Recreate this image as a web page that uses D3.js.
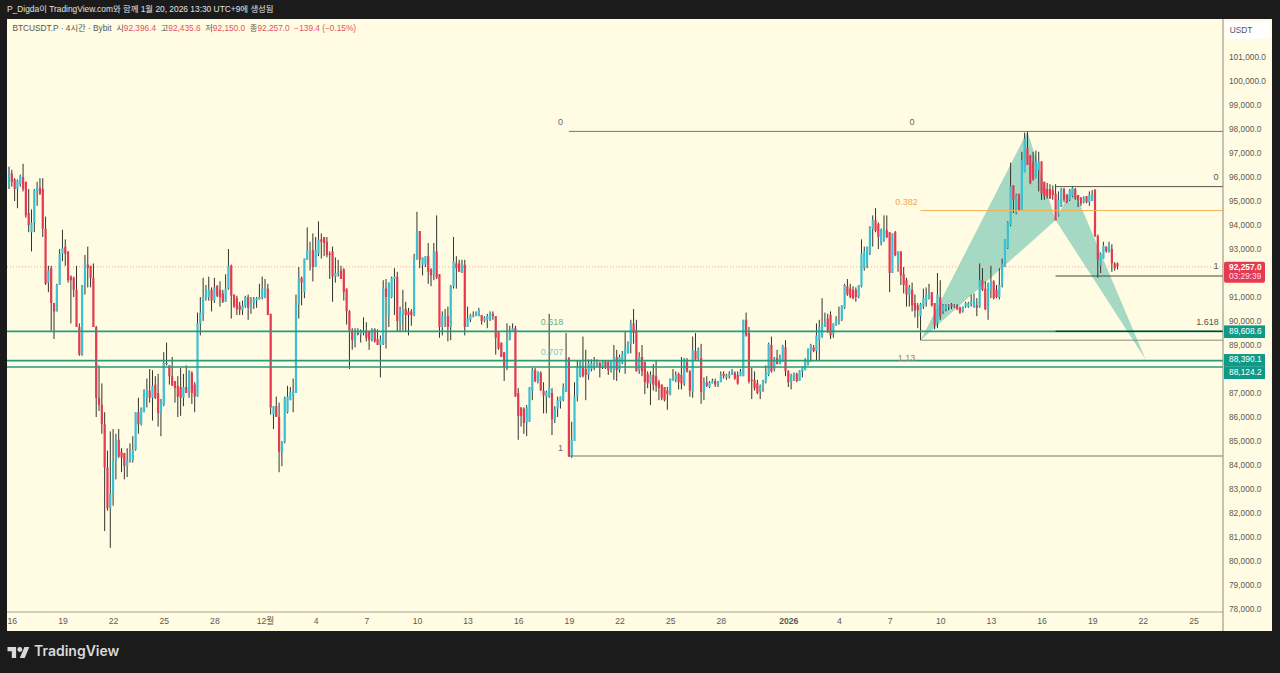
<!DOCTYPE html>
<html>
<head>
<meta charset="utf-8">
<script src="https://cdnjs.cloudflare.com/ajax/libs/d3/7.8.5/d3.min.js"></script>
<style>
html, body { margin: 0; padding: 0; background: #1b1b1b; overflow: hidden; }
svg { display: block; }
text { font-family: "Liberation Sans", "Noto Sans CJK KR", sans-serif; }
</style>
</head>
<body>
<svg id="chart" width="1280" height="673"></svg>
<script>
// 4h candles, thousands of USDT
const opens = [
95.6,96.15,95.9,95.5,95.7,96.0,95.8,94.5,93.7,94.1,
95.4,95.55,95.5,93.85,91.6,92.2,90.75,90.4,91.5,92.8,
93.1,92.9,91.85,91.8,91.3,89.75,88.6,91.5,92.35,92.3,
91.8,89.75,86.8,86.5,85.7,83.9,82.2,82.8,84.15,85.05,
84.55,84.5,83.95,84.2,84.2,84.65,86.2,85.7,86.2,86.8,
87.1,86.8,87.35,87.0,86.15,86.5,88.25,88.15,87.7,87.5,
87.3,87.25,86.8,87.25,87.05,87.85,87.35,86.85,89.9,90.3,
91.0,91.0,91.3,90.85,91.45,91.3,91.15,90.8,91.35,92.3,
91.1,90.95,90.65,90.45,90.6,91.0,90.55,90.75,90.85,90.9,
90.95,91.0,91.35,90.3,86.1,86.45,86.0,84.55,84.95,86.2,
86.7,86.9,87.0,90.7,91.8,91.2,92.55,92.95,92.95,92.25,
92.8,93.4,93.5,93.3,92.8,92.9,91.85,92.0,92.1,92.15,
91.35,90.4,89.6,89.2,89.5,89.45,89.5,89.6,89.55,89.2,
89.65,89.25,89.0,89.05,91.35,90.2,91.0,91.75,91.85,89.9,
90.25,90.5,90.4,90.4,90.25,92.6,93.75,92.35,92.35,92.7,
92.15,91.95,92.9,91.95,89.75,90.1,90.2,89.75,91.45,92.4,
92.4,92.05,92.35,89.75,90.05,90.2,90.25,90.2,90.25,90.0,
90.05,90.05,90.3,90.2,89.55,89.1,88.7,88.1,89.2,89.55,
89.7,87.0,86.4,86.35,85.75,85.8,87.1,87.95,87.5,87.85,
87.1,86.85,86.85,87.0,85.9,86.35,86.65,86.7,87.05,88.45,
84.35,85.0,86.85,87.7,88.1,88.0,87.75,88.0,88.1,88.2,
88.25,88.05,88.3,88.3,87.95,87.96,88.5,87.95,88.25,88.5,
88.65,89.05,89.9,89.6,87.95,88.5,88.3,87.8,87.4,87.75,
87.7,87.45,87.35,87.25,87.1,86.95,87.5,87.55,87.8,87.75,
87.4,88.3,87.9,87.05,88.75,88.45,88.45,87.05,87.45,87.25,
87.4,87.5,87.35,87.45,87.8,87.65,87.7,87.8,87.85,87.75,
87.7,87.7,90.05,89.5,87.55,87.55,87.4,87.05,87.3,87.45,
87.75,89.0,88.0,88.45,88.2,88.3,88.9,87.9,87.45,87.7,
87.8,87.5,87.9,87.95,88.2,88.75,88.9,88.75,89.2,89.35,
89.75,90.1,90.25,89.45,89.85,90.0,90.05,90.55,91.45,91.35,
91.3,91.3,91.0,91.45,92.2,92.4,92.85,93.85,94.2,94.05,
93.25,93.4,93.8,93.7,92.0,93.7,92.4,92.9,91.95,91.7,
91.1,91.3,90.75,90.65,90.2,90.6,90.8,90.95,91.2,90.75,
89.9,91.0,90.4,90.5,90.6,90.7,90.6,90.65,90.55,90.4,
90.6,90.6,90.7,90.6,90.65,90.6,91.7,91.35,90.5,91.3,
91.65,91.3,91.0,91.5,92.3,93.05,94.0,95.65,94.5,95.3,
94.6,96.2,97.2,96.9,96.6,95.95,96.3,96.65,95.8,95.5,
95.5,95.45,95.3,94.4,94.8,95.5,95.25,95.05,95.2,95.5,
95.25,95.15,94.95,95.2,94.95,95.0,95.45,93.55,92.3,92.6,
93.1,92.9,93.0,92.4,92.396
];
const highs = [
96.43,96.3,95.95,95.9,96.1,96.55,95.8,95.5,94.65,95.5,
95.8,95.95,95.95,94.35,92.3,92.3,90.75,91.55,93.0,93.8,
93.4,92.9,91.9,91.85,92.3,89.9,91.5,92.75,93.1,92.3,
92.4,89.8,88.15,87.4,86.2,84.6,85.4,85.5,85.3,85.5,
84.7,84.5,84.7,84.9,85.2,86.2,86.8,86.4,87.15,87.6,
88.0,87.95,87.7,87.8,86.75,88.7,89.1,88.15,88.5,87.5,
87.7,88.05,87.8,88.15,87.95,87.9,87.45,90.35,91.0,91.8,
91.5,91.85,91.4,91.8,91.5,91.65,91.3,91.95,93.0,92.35,
91.1,91.05,90.8,90.85,91.05,91.1,91.0,91.0,91.0,91.55,
91.85,91.75,91.55,90.3,86.45,86.85,86.6,85.0,86.85,87.3,
87.25,87.6,91.1,92.25,91.85,92.6,93.9,93.3,93.65,93.5,
94.15,93.65,93.5,93.5,92.9,93.1,92.65,92.55,92.3,92.2,
91.35,90.45,89.7,89.7,89.7,89.65,90.15,89.95,89.6,89.7,
89.7,89.65,89.4,91.7,91.75,91.6,91.85,92.2,92.05,90.6,
91.3,90.8,90.55,90.5,92.8,94.55,93.75,92.65,92.7,93.25,
92.2,93.25,94.4,91.95,90.4,90.5,90.6,91.5,93.5,92.7,
92.55,92.55,92.55,90.6,90.3,90.4,90.4,90.55,90.25,90.2,
90.3,90.4,90.4,90.2,89.55,89.1,88.7,89.9,89.8,89.9,
89.8,87.2,86.4,86.4,86.5,87.25,88.05,88.05,87.9,87.9,
87.45,87.1,90.3,87.2,86.45,86.85,86.85,87.4,89.5,88.5,
85.8,87.45,88.35,88.35,89.35,88.8,88.4,88.4,88.5,88.4,
88.3,88.35,88.35,88.35,88.35,89.0,88.8,88.6,88.75,89.55,
89.15,90.05,90.5,90.05,88.7,89.0,88.3,87.9,87.9,88.2,
88.35,87.55,87.35,87.25,87.25,87.6,88.0,87.9,87.85,88.5,
88.45,88.45,87.95,89.35,89.5,88.9,89.05,87.65,87.7,87.5,
87.6,87.6,87.5,87.9,87.9,87.8,87.9,88.0,87.9,87.9,
88.0,90.05,90.35,89.75,88.05,87.9,87.55,87.35,87.55,88.15,
89.1,89.35,88.5,88.8,88.6,89.0,89.2,87.95,87.8,87.85,
87.85,87.95,88.1,88.45,88.85,89.05,89.0,89.9,90.05,90.95,
90.35,90.3,90.4,89.9,90.2,90.6,90.65,91.55,91.75,91.55,
91.45,91.4,91.5,93.4,93.1,93.1,93.95,94.4,94.7,94.1,
93.85,94.4,94.4,93.7,93.65,93.75,92.9,92.9,92.25,91.8,
91.5,91.6,91.1,90.75,90.75,91.35,91.4,91.55,91.2,90.75,
92.0,91.7,90.7,90.7,90.7,90.75,90.7,90.7,90.6,90.6,
90.8,90.8,91.1,91.15,90.95,92.4,92.2,91.65,91.6,92.3,
91.7,91.5,92.2,92.6,93.4,94.15,96.6,95.65,95.3,95.3,
97.05,97.85,97.9,96.9,97.05,97.1,97.05,96.65,95.8,95.75,
95.7,95.65,95.7,95.4,95.55,95.55,95.3,95.5,95.6,95.55,
95.25,95.15,95.2,95.2,95.4,95.45,95.5,93.6,92.85,93.3,
93.1,93.3,93.2,92.45,92.436
];
const lows = [
95.5,95.6,95.0,94.7,95.6,95.4,94.3,93.7,92.9,93.7,
94.8,95.25,93.5,91.5,91.2,89.6,89.25,90.4,91.5,92.5,
92.3,91.6,89.9,91.0,89.75,88.55,88.55,91.1,91.4,91.4,
89.75,86.0,86.25,85.3,81.25,82.1,80.55,82.3,83.4,84.3,
83.7,83.4,83.5,84.1,84.1,84.6,85.3,85.65,86.2,86.4,
86.6,85.85,86.75,85.6,85.2,86.45,88.15,87.35,87.3,86.6,
86.0,86.05,86.45,87.0,86.8,86.55,86.2,86.85,89.4,90.0,
90.85,90.85,90.4,90.75,91.0,90.6,90.75,90.8,91.3,90.1,
90.55,90.25,90.25,90.25,90.55,90.05,90.3,90.5,90.55,90.9,
90.9,90.95,90.25,86.1,85.5,86.0,83.7,83.95,84.9,86.15,
86.7,86.2,87.0,90.1,90.65,90.95,92.55,92.1,91.65,92.25,
92.7,92.6,92.7,92.65,91.75,90.8,91.6,91.85,91.75,90.85,
89.85,88.0,88.8,88.9,89.4,89.1,89.4,89.15,88.8,89.15,
89.1,89.0,87.65,89.0,88.85,89.75,90.95,90.25,89.55,89.55,
89.6,89.55,89.4,89.8,90.2,92.55,92.2,91.9,92.25,91.55,
91.45,91.7,91.75,89.3,89.4,89.75,89.15,89.2,91.35,91.35,
92.05,92.0,89.4,89.75,89.95,90.15,90.2,90.2,89.85,89.95,
89.7,90.0,90.05,88.6,88.8,88.5,87.5,87.95,89.2,89.55,
86.85,85.05,85.6,85.3,85.2,85.8,86.7,87.45,87.4,87.1,
86.15,86.15,86.8,85.25,85.75,86.0,86.35,86.65,87.05,84.35,
84.3,85.0,86.65,87.65,87.65,86.7,87.55,87.9,87.95,88.1,
87.65,88.0,88.0,87.75,87.85,87.55,87.5,87.85,88.2,87.8,
88.65,88.65,89.05,87.9,87.8,87.7,86.95,87.2,86.5,87.1,
87.05,86.7,86.7,86.65,86.3,86.9,87.5,87.45,87.15,87.15,
87.3,87.85,86.85,86.8,88.35,88.35,86.55,86.7,87.25,87.2,
87.4,87.25,87.25,87.45,87.6,87.55,87.6,87.75,87.55,87.35,
87.7,87.7,89.35,87.4,86.75,87.1,86.95,86.75,87.05,87.4,
87.7,87.85,87.9,88.2,88.2,88.3,87.7,87.25,87.15,87.5,
87.45,87.5,87.65,87.95,88.15,88.3,88.7,88.35,88.35,89.3,
89.75,89.5,89.25,89.3,89.8,89.85,90.0,90.5,91.05,90.95,
90.9,90.8,90.95,91.4,92.1,92.2,92.75,93.1,93.7,93.0,
93.15,93.3,93.45,91.2,92.0,92.7,92.05,91.5,91.15,90.6,
90.6,90.4,90.15,89.7,89.2,90.5,90.6,90.9,90.6,89.65,
89.7,90.05,90.3,90.4,90.45,90.5,90.55,90.45,90.3,90.35,
90.55,90.55,90.6,90.55,90.2,90.55,91.25,90.45,90.05,90.95,
90.9,90.95,90.9,91.4,92.25,93.0,93.95,94.5,94.45,94.6,
94.6,96.2,96.5,95.7,95.85,95.95,95.4,95.05,95.05,95.1,
95.1,95.05,94.2,94.35,94.75,94.95,94.9,95.0,95.15,95.05,
94.75,94.8,94.9,94.9,94.8,95.0,93.5,91.8,92.0,92.6,
92.85,92.85,92.05,92.1,92.15
];
const closes = [
96.15,95.8,95.5,95.85,96.05,95.5,94.4,94.0,94.1,95.45,
95.55,95.3,93.85,91.55,92.1,90.75,90.4,91.5,92.8,93.05,
92.8,91.7,91.7,91.3,89.75,88.6,91.5,92.4,92.2,91.8,
89.75,86.8,86.5,85.7,83.9,82.2,82.8,84.15,85.05,84.35,
84.3,83.95,84.2,84.5,84.65,86.2,85.7,86.35,87.1,87.15,
86.8,87.3,86.8,86.15,86.65,88.25,88.2,87.7,87.3,87.2,
86.85,86.8,87.25,87.0,87.9,87.0,86.85,89.9,90.35,91.0,
91.3,91.3,90.85,91.4,91.05,91.0,90.8,91.35,92.3,91.05,
90.6,90.5,90.45,90.65,91.0,90.55,90.75,90.9,90.95,91.0,
91.35,91.35,90.25,86.4,86.45,86.0,84.55,84.95,86.8,86.85,
87.05,87.05,90.75,91.8,91.6,92.6,92.95,93.0,92.25,92.95,
93.4,93.3,93.25,92.75,92.75,91.85,92.0,92.05,91.75,91.2,
90.4,89.6,89.2,89.5,89.45,89.6,89.6,89.3,89.2,89.65,
89.15,89.0,89.2,91.35,91.0,91.6,91.8,91.85,90.0,90.4,
90.5,90.25,90.25,90.25,92.6,93.7,92.55,92.65,92.7,92.05,
91.9,92.9,91.8,89.75,90.2,90.2,89.75,91.45,92.5,92.2,
92.05,92.35,89.75,90.1,90.25,90.25,90.3,90.45,90.0,90.15,
90.2,90.35,90.2,89.3,88.85,88.5,88.1,89.2,89.6,89.7,
86.85,86.05,86.05,85.75,86.4,87.25,87.95,87.5,87.9,87.1,
86.9,87.05,87.2,85.9,86.35,86.7,86.85,87.25,88.35,84.35,
85.05,86.85,88.05,88.3,87.7,87.75,88.25,88.25,88.25,88.25,
88.05,88.3,88.1,87.95,88.3,88.5,87.95,88.5,88.65,88.85,
89.05,89.9,89.5,87.9,88.5,87.9,87.45,87.4,87.75,87.35,
87.3,87.2,86.8,86.7,86.95,87.6,87.6,87.75,87.45,87.4,
88.45,87.9,87.1,88.8,88.4,88.85,87.05,87.45,87.3,87.45,
87.5,87.35,87.45,87.75,87.7,87.75,87.8,87.95,87.6,87.4,
87.9,90.05,89.4,87.5,87.5,87.2,87.0,87.3,87.5,87.85,
89.05,87.9,88.45,88.2,88.5,88.95,87.9,87.45,87.75,87.8,
87.5,87.95,88.05,88.4,88.85,89.0,88.75,89.4,89.75,89.85,
89.95,89.6,89.4,89.9,90.1,90.05,90.65,91.5,91.1,91.0,
90.95,91.0,91.5,92.8,92.9,93.1,93.9,94.2,93.75,93.5,
93.8,93.8,93.5,92.0,93.65,92.75,92.9,91.9,91.5,91.1,
91.4,90.65,90.45,90.45,90.7,90.95,91.1,91.15,90.65,89.85,
91.1,90.2,90.65,90.65,90.65,90.6,90.65,90.5,90.35,90.6,
90.75,90.75,90.8,90.9,90.55,91.7,91.3,90.5,91.55,91.65,
90.95,91.0,91.5,92.4,93.4,94.1,95.6,95.05,95.25,94.6,
96.7,97.6,96.5,95.75,95.9,96.65,96.65,95.3,95.2,95.2,
95.1,95.25,94.2,95.05,95.5,95.05,94.95,95.45,95.55,95.1,
95.05,94.9,95.15,94.95,95.25,95.3,93.55,92.55,92.8,93.15,
92.9,93.15,92.4,92.2,92.257
];

const timeTickBars = [1,19,37,55,73,91,109,127,145,163,181,199,217,235,253,277,295,313,331,349,367,385,403,421];
const timeTickLabels = ['16','19','22','25','28','12월','4','7','10','13','16','19','22','25','28','2026','4','7','10','13','16','19','22','25'];
const priceTicks = [101,100,99,98,97,96,95,94,93,91,90,89,87,86,85,84,83,82,81,80,79,78];

// harmonic pattern pivots: bar index and price
const patternBars = [324,362,372,378,404];
const patternPrices = [89.2,97.9,94.2,95.6,88.4];

const horizontalPrices = [89.6086,88.3901,88.1242];
const lastPrice = 92.257;

// fib drawings: start bar, price, colour
const fibBars = [199,199,324,324,372,372,372];
const fibPrices = [97.9,84.375,94.6,89.2,95.6,91.875,89.57];
const fibColors = ['#77766a','#77766a','#f4b055','#8a8a80','#55554c','#44443c','#22221c'];

const fibLabelText = ['0','0','1','0.618','0.707','0.382','1.13','0','1','1.618'];
const fibLabelBars = [196,321,196,193,193,319,319,429,429,426];
const fibLabelPrices = [98.27,98.27,84.67,89.95,88.7,94.93,88.44,95.96,92.25,89.95];
const fibLabelColors = ['#666','#666','#666','#6fab88','#72cccc','#efa850','#8b8b85','#555','#555','#555'];

const legendParts = [
    ['BTCUSDT.P · 4시간 · Bybit  시', '#555'], ['92,396.4', '#e8505f'],
    ['  고', '#555'], ['92,435.6', '#e8505f'],
    ['  저', '#555'], ['92,150.0', '#e8505f'],
    ['  종', '#555'], ['92,257.0', '#e8505f'],
    ['  −139.4 (−0.15%)', '#e8505f']
];

const chartLeft = 7, chartRight = 1223, axisRight = 1272, chartTop = 19, chartBottom = 612, stripBottom = 631;
const BG = '#fffce3', UP = '#3cc0d2', DOWN = '#e63a50', WICK = '#33332e', GREEN = '#259a7e', TAG = '#0f9a87';

const svg = d3.select('#chart');
const x = d3.scaleLinear().domain([0, 394]).range([9, 1117.5]);
const y = d3.scaleLinear().domain([78, 101]).range([609, 57]);

svg.append('rect').attr('width', 1280).attr('height', 673).attr('fill', '#1b1b1b');
svg.append('rect').attr('x', chartLeft).attr('y', chartTop)
    .attr('width', axisRight - chartLeft).attr('height', stripBottom - chartTop).attr('fill', BG);

svg.append('clipPath').attr('id', 'plot').append('rect')
    .attr('x', chartLeft).attr('y', chartTop).attr('width', chartRight - chartLeft).attr('height', chartBottom - chartTop);
let plot = svg.append('g').attr('clip-path', 'url(#plot)');

// pattern triangles
const pts = patternBars.map((b, i) => [x(b), y(patternPrices[i])]);
plot.append('polygon')
    .attr('points', [pts[0], pts[1], pts[2]].join(' '))
    .attr('fill', '#a6d9c3');
plot.append('polygon')
    .attr('points', [pts[2], pts[3], pts[4]].join(' '))
    .attr('fill', '#a6d9c3');

plot.append('line')
    .attr('x1', chartLeft).attr('x2', chartRight)
    .attr('y1', y(lastPrice)).attr('y2', y(lastPrice))
    .attr('stroke', '#f3a9a0').attr('stroke-width', 1).attr('stroke-dasharray', '1 2');

// candles
let candle = plot.selectAll('g.candle')
    .data(opens)
    .enter()
    .append('g')
    .attr('class', 'candle');

candle.append('line')
    .attr('x1', (d, i) => x(i)).attr('x2', (d, i) => x(i))
    .attr('y1', (d, i) => y(Math.max(highs[i], d, closes[i])))
    .attr('y2', (d, i) => y(Math.min(lows[i], d, closes[i])))
    .attr('stroke', WICK).attr('stroke-width', 1);

candle.append('rect')
    .attr('x', (d, i) => x(i) - 1.1)
    .attr('width', 2.2)
    .attr('y', (d, i) => y(Math.max(d, closes[i])))
    .attr('height', (d, i) => Math.max(1, Math.abs(y(d) - y(closes[i]))))
    .attr('fill', (d, i) => closes[i] >= d ? UP : DOWN);

// fib lines
fibBars.forEach((b, i) => {
    plot.append('line')
        .attr('x1', x(b)).attr('x2', chartRight)
        .attr('y1', y(fibPrices[i])).attr('y2', y(fibPrices[i]))
        .attr('stroke', fibColors[i]).attr('stroke-width', 1);
});

// axis labels sit a pixel above their true level, so the lines get +1
horizontalPrices.forEach((p) => {
    plot.append('line')
        .attr('x1', chartLeft).attr('x2', chartRight)
        .attr('y1', y(p) + 1).attr('y2', y(p) + 1)
        .attr('stroke', GREEN).attr('stroke-width', 1.6);
});
// black 1.618 leg sits on top of the green line
plot.append('line')
    .attr('x1', x(fibBars[6])).attr('x2', chartRight)
    .attr('y1', y(fibPrices[6])).attr('y2', y(fibPrices[6]))
    .attr('stroke', fibColors[6]).attr('stroke-width', 1);

fibLabelText.forEach((t, i) => {
    plot.append('text')
        .attr('x', x(fibLabelBars[i])).attr('y', y(fibLabelPrices[i]))
        .attr('text-anchor', 'middle').attr('dominant-baseline', 'middle')
        .attr('font-size', 9).attr('fill', fibLabelColors[i])
        .text(t);
});

// axes
let yAxis = d3.axisRight(y).tickValues(priceTicks).tickSize(0).tickPadding(6)
    .tickFormat((d) => d3.format(',.1f')(d * 1000));
let yg = svg.append('g').attr('transform', 'translate(' + chartRight + ',0)').call(yAxis);
yg.select('.domain').remove();
yg.selectAll('text').attr('font-size', 8.3).attr('fill', '#5a5a55')
    .style('font-family', '"Liberation Sans", sans-serif');

let xAxis = d3.axisBottom(x).tickValues(timeTickBars).tickSize(0).tickPadding(5.5)
    .tickFormat((d, i) => timeTickLabels[i]);
let xg = svg.append('g').attr('transform', 'translate(0,' + chartBottom + ')').call(xAxis);
xg.select('.domain').remove();
xg.selectAll('text').attr('font-size', 8.6).attr('fill', '#5a5a55')
    .attr('font-weight', (d, i) => timeTickLabels[i] === '2026' ? 'bold' : 'normal')
    .style('font-family', '"Liberation Sans", "Noto Sans CJK KR", sans-serif');

svg.append('line').attr('x1', chartLeft).attr('x2', chartRight)
    .attr('y1', chartBottom).attr('y2', chartBottom)
    .attr('stroke', '#a6a48c').attr('stroke-width', 1.2);
svg.append('line').attr('x1', chartRight).attr('x2', chartRight)
    .attr('y1', chartTop).attr('y2', stripBottom)
    .attr('stroke', '#8a8a78').attr('stroke-width', 1);

// USDT box
svg.append('rect').attr('x', 1225).attr('y', 22).attr('width', 45).attr('height', 17).attr('rx', 2).attr('fill', '#ffffff');
svg.append('text').attr('x', 1241).attr('y', 31).attr('text-anchor', 'middle').attr('dominant-baseline', 'middle')
    .attr('font-size', 8.3).attr('fill', '#555').text('USDT');

// price tags, the two close ones are pushed apart like the platform does
const tagValues = [89.6086, 88.3901, 88.1242];
const tagShifts = [1.2, 0.6, 6.6];
svg.append('rect').attr('x', chartRight + 1).attr('y', y(lastPrice) - 5)
    .attr('width', 41).attr('height', 21).attr('rx', 2).attr('fill', DOWN);
svg.append('text').attr('x', 1229).attr('y', y(lastPrice) + 0.5).attr('dominant-baseline', 'middle')
    .attr('font-size', 8.4).attr('font-weight', 'bold').attr('fill', '#fff').text(d3.format(',.1f')(lastPrice * 1000));
svg.append('text').attr('x', 1229).attr('y', y(lastPrice) + 9.7).attr('dominant-baseline', 'middle')
    .attr('font-size', 8.3).attr('fill', '#fde').text('03:29:39');

svg.selectAll('rect.tag').data(tagValues).enter().append('rect')
    .attr('class', 'tag')
    .attr('x', chartRight + 1).attr('y', (d, i) => y(d) + tagShifts[i] - 6.2)
    .attr('width', 41).attr('height', 12.6).attr('fill', TAG);
svg.selectAll('text.tag').data(tagValues).enter().append('text')
    .attr('class', 'tag')
    .attr('x', 1229).attr('y', (d, i) => y(d) + tagShifts[i]).attr('dominant-baseline', 'middle')
    .attr('font-size', 8.4).attr('fill', '#fff').text((d) => d3.format(',.1f')(d * 1000));

// headers
svg.append('text').attr('x', 7).attr('y', 10).attr('dominant-baseline', 'middle')
    .attr('font-size', 8.4).attr('fill', '#e2e2e2')
    .text('P_Digda이 TradingView.com와 함께 1월 20, 2026 13:30 UTC+9에 생성됨');

let legend = svg.append('text').attr('x', 12.5).attr('y', 29).attr('dominant-baseline', 'middle')
    .attr('font-size', 8.3).attr('xml:space', 'preserve').style('white-space', 'pre');
legendParts.forEach((p) => {
    legend.append('tspan').attr('fill', p[1]).text(p[0]);
});

// logo
let logo = svg.append('g').attr('transform', 'translate(7.5,644.5) scale(0.615)').attr('fill', '#d9d9d9');
logo.append('path').attr('d', 'M14 22H7V11H0V4h14v18zM28 22h-8l7.5-18h8L28 22z');
logo.append('circle').attr('cx', 20).attr('cy', 8).attr('r', 4);
svg.append('text').attr('x', 34).attr('y', 652).attr('dominant-baseline', 'middle')
    .attr('font-size', 14).attr('font-weight', 600).attr('fill', '#d9d9d9')
    .style('font-family', 'Inter, sans-serif').text('TradingView');
</script>
</body>
</html>
